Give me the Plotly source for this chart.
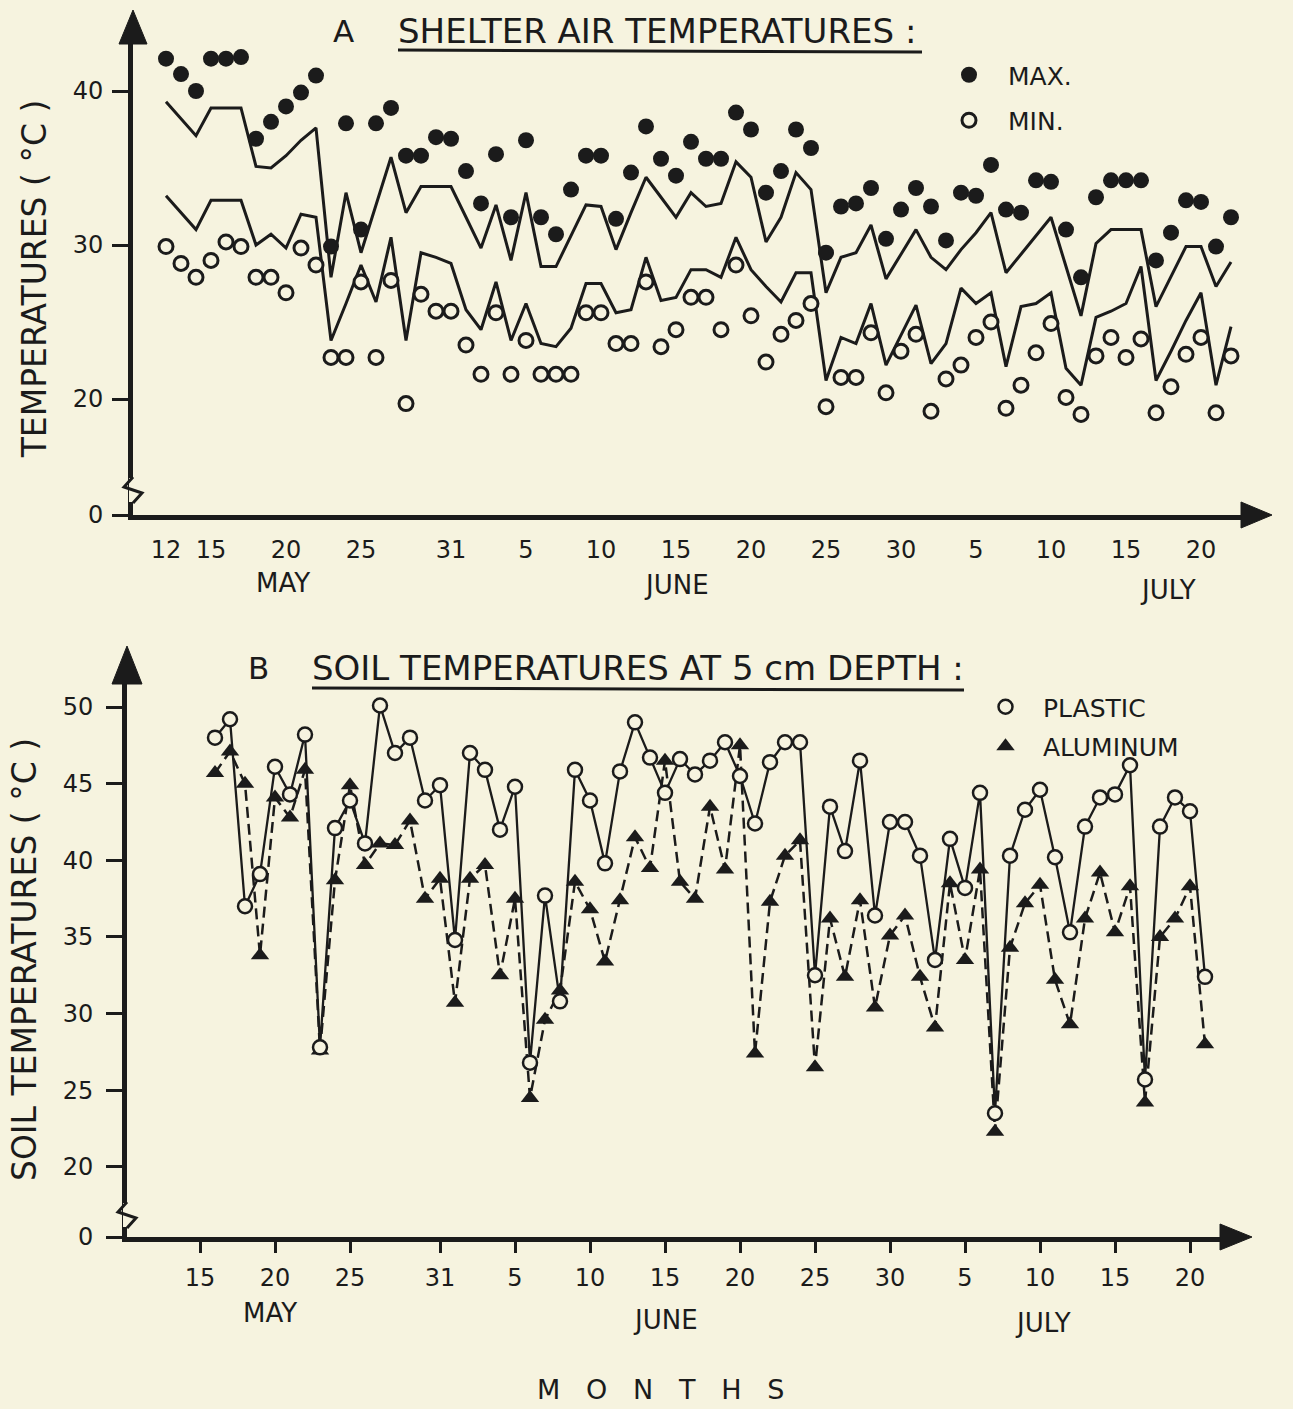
import datetime as dt
import plotly.graph_objects as go

W, H = 1293, 1409
INK = "#1b1b1b"
PAPER = "#f6f3df"
FONT = "DejaVu Sans"

# ---------------- data ----------------
# Panel A: shelter air temperatures, daily from 12 May
air_start = dt.date(1983, 5, 12)
air_max = [42.1, 41.1, 40.0, 42.1, 42.1, 42.2, 36.9, 38.0, 39.0, 39.9,
           41.0, 29.9, 37.9, 31.0, 37.9, 38.9, 35.8, 35.8, 37.0, 36.9,
           34.8, 32.7, 35.9, 31.8, 36.8, 31.8, 30.7, 33.6, 35.8, 35.8,
           31.7, 34.7, 37.7, 35.6, 34.5, 36.7, 35.6, 35.6, 38.6, 37.5,
           33.4, 34.8, 37.5, 36.3, 29.5, 32.5, 32.7, 33.7, 30.4, 32.3,
           33.7, 32.5, 30.3, 33.4, 33.2, 35.2, 32.3, 32.1, 34.2, 34.1,
           31.0, 27.9, 33.1, 34.2, 34.2, 34.2, 29.0, 30.8, 32.9, 32.8,
           29.9, 31.8]
air_min = [29.9, 28.8, 27.9, 29.0, 30.2, 29.9, 27.9, 27.9, 26.9, 29.8,
           28.7, 22.7, 22.7, 27.6, 22.7, 27.7, 19.7, 26.8, 25.7, 25.7,
           23.5, 21.6, 25.6, 21.6, 23.8, 21.6, 21.6, 21.6, 25.6, 25.6,
           23.6, 23.6, 27.6, 23.4, 24.5, 26.6, 26.6, 24.5, 28.7, 25.4,
           22.4, 24.2, 25.1, 26.2, 19.5, 21.4, 21.4, 24.3, 20.4, 23.1,
           24.2, 19.2, 21.3, 22.2, 24.0, 25.0, 19.4, 20.9, 23.0, 24.9,
           20.1, 19.0, 22.8, 24.0, 22.7, 23.9, 19.1, 20.8, 22.9, 24.0,
           19.1, 22.8]
eff_day = [39.3, 38.2, 37.1, 38.9, 38.9, 38.9, 35.1, 35.0, 35.8, 36.8,
           37.6, 27.9, 33.4, 29.5, 32.6, 35.7, 32.1, 33.8, 33.8, 33.8,
           31.8, 29.8, 32.6, 29.0, 33.4, 28.6, 28.6, 30.6, 32.6, 32.5,
           29.7, 32.1, 34.4, 33.1, 31.8, 33.4, 32.5, 32.7, 35.4, 34.4,
           30.2, 31.8, 34.7, 33.6, 26.9, 29.2, 29.5, 31.3, 27.8, 29.4,
           31.0, 29.2, 28.4, 29.7, 30.8, 32.1, 28.2, 29.4, 30.6, 31.8,
           28.6, 25.4, 30.1, 31.0, 31.0, 31.0, 26.0, 28.0, 29.9, 29.9,
           27.3, 28.9]
eff_night = [33.2, 32.1, 31.0, 32.9, 32.9, 32.9, 30.0, 30.7, 29.8, 32.0,
             31.8, 23.8, 26.2, 28.7, 26.3, 30.5, 23.8, 29.5, 29.2, 28.8,
             25.8, 24.5, 27.6, 23.8, 26.2, 23.6, 23.4, 24.6, 27.5, 27.5,
             25.6, 25.8, 29.2, 26.4, 26.6, 28.4, 28.4, 27.9, 30.5, 28.4,
             27.3, 26.3, 28.2, 28.2, 21.2, 24.0, 23.6, 26.2, 22.2, 24.2,
             26.1, 22.3, 23.6, 27.2, 26.2, 26.9, 22.1, 26.0, 26.2, 26.9,
             22.0, 20.9, 25.3, 25.7, 26.2, 28.6, 21.2, 23.1, 25.1, 26.9,
             20.9, 24.7]

# Panel B: soil temperatures at 5 cm depth, daily from 16 May
soil_start = dt.date(1983, 5, 16)
soil_plastic = [48.0, 49.2, 37.0, 39.1, 46.1, 44.3, 48.2, 27.8, 42.1, 43.9,
                41.1, 50.1, 47.0, 48.0, 43.9, 44.9, 34.8, 47.0, 45.9, 42.0,
                44.8, 26.8, 37.7, 30.8, 45.9, 43.9, 39.8, 45.8, 49.0, 46.7,
                44.4, 46.6, 45.6, 46.5, 47.7, 45.5, 42.4, 46.4, 47.7, 47.7,
                32.5, 43.5, 40.6, 46.5, 36.4, 42.5, 42.5, 40.3, 33.5, 41.4,
                38.2, 44.4, 23.5, 40.3, 43.3, 44.6, 40.2, 35.3, 42.2, 44.1,
                44.3, 46.2, 25.7, 42.2, 44.1, 43.2, 32.4]
soil_aluminum = [45.7, 47.1, 45.0, 33.8, 44.1, 42.8, 45.9, 27.6, 38.7, 44.9,
                 39.7, 41.1, 41.0, 42.6, 37.5, 38.8, 30.7, 38.8, 39.7, 32.5,
                 37.5, 24.5, 29.6, 31.5, 38.6, 36.8, 33.4, 37.4, 41.5, 39.5,
                 46.5, 38.6, 37.5, 43.5, 39.4, 47.5, 27.4, 37.3, 40.3, 41.3,
                 26.5, 36.2, 32.4, 37.4, 30.4, 35.1, 36.4, 32.4, 29.1, 38.5,
                 33.5, 39.4, 22.3, 34.3, 37.2, 38.4, 32.2, 29.3, 36.2, 39.2,
                 35.3, 38.3, 24.2, 35.0, 36.2, 38.3, 28.0]

# tick labels
a_tick_dates = [(5, 12), (5, 15), (5, 20), (5, 25), (5, 31), (6, 5), (6, 10), (6, 15),
                (6, 20), (6, 25), (6, 30), (7, 5), (7, 10), (7, 15), (7, 20)]
b_tick_dates = a_tick_dates[1:]
a_ytick_values = [0, 20, 30, 40]
b_ytick_values = [0, 20, 25, 30, 35, 40, 45, 50]
month_names = ["MAY", "JUNE", "JULY"]


# ---------------- helpers ----------------
def day_of(m, d):
    return (dt.date(air_start.year, m, d) - air_start).days


def fx(px):
    return px / W


def fy(py):
    return 1 - py / H


air_days = [i for i in range(len(air_max))]
soil_off = (soil_start - air_start).days
soil_days = [soil_off + i for i in range(len(soil_plastic))]

# pixel frames of the two panels
A_L, A_R, A_T, A_B = 133, 1243, 42, 515
B_L, B_R, B_T, B_B = 127, 1222, 682, 1237
A_X0, B_X0, PX_DAY = 166, 155, 15.0
A_YREF, A_YPX, A_PPU = 30, 245, 15.4
B_YREF, B_YPX, B_PPU = 50, 707, 15.33

a_xr = [(A_L - A_X0) / PX_DAY, (A_R - A_X0) / PX_DAY]
a_yr = [A_YREF - (A_B - A_YPX) / A_PPU, A_YREF + (A_YPX - A_T) / A_PPU]
b_xr = [(B_L - B_X0) / PX_DAY, (B_R - B_X0) / PX_DAY]
b_yr = [B_YREF - (B_B - B_YPX) / B_PPU, B_YREF + (B_YPX - B_T) / B_PPU]

fig = go.Figure()

line_a = dict(color=INK, width=3)
# Panel A lines (effective day / night)
fig.add_trace(go.Scatter(x=air_days, y=eff_day, mode="lines", line=line_a,
                         showlegend=False, xaxis="x", yaxis="y"))
fig.add_trace(go.Scatter(x=air_days, y=eff_night, mode="lines", line=line_a,
                         showlegend=False, xaxis="x", yaxis="y"))
fig.add_trace(go.Scatter(x=air_days, y=air_max, mode="markers", name="MAX.",
                         marker=dict(symbol="circle", size=16, color=INK),
                         legend="legend", legendgroup="max", legendrank=1,
                         xaxis="x", yaxis="y"))
fig.add_trace(go.Scatter(x=air_days, y=air_min, mode="markers", name="MIN.",
                         marker=dict(symbol="circle", size=14, color=PAPER,
                                     line=dict(color=INK, width=3)),
                         legend="legend", legendgroup="min", legendrank=2,
                         xaxis="x", yaxis="y"))

# Panel B
fig.add_trace(go.Scatter(x=soil_days, y=soil_aluminum, mode="lines",
                         line=dict(color=INK, width=2.5, dash="11px,6px"),
                         showlegend=False, xaxis="x2", yaxis="y2"))
fig.add_trace(go.Scatter(x=soil_days, y=soil_plastic, mode="lines",
                         line=dict(color=INK, width=2.3),
                         showlegend=False, xaxis="x2", yaxis="y2"))
fig.add_trace(go.Scatter(x=soil_days, y=soil_aluminum, mode="markers", name="ALUMINUM",
                         marker=dict(symbol="triangle-up", size=16, color=INK),
                         legend="legend2", legendgroup="alu", legendrank=2,
                         xaxis="x2", yaxis="y2"))
fig.add_trace(go.Scatter(x=soil_days, y=soil_plastic, mode="markers", name="PLASTIC",
                         marker=dict(symbol="circle", size=14, color=PAPER,
                                     line=dict(color=INK, width=2.5)),
                         legend="legend2", legendgroup="pla", legendrank=1,
                         xaxis="x2", yaxis="y2"))

axis_common = dict(showgrid=False, zeroline=False, showline=True, linecolor=INK,
                   linewidth=5, tickcolor=INK, tickfont=dict(family=FONT, size=24, color=INK),
                   mirror=False, fixedrange=True, automargin=False)

a_tickvals = [day_of(m, d) for m, d in a_tick_dates]
b_tickvals = [day_of(m, d) for m, d in b_tick_dates]

fig.update_layout(
    width=W, height=H, autosize=False,
    margin=dict(l=0, r=0, t=0, b=0),
    paper_bgcolor=PAPER, plot_bgcolor=PAPER,
    font=dict(family=FONT, color=INK),
    xaxis=dict(axis_common, domain=[fx(A_L), fx(A_R)], range=a_xr, anchor="y",
               tickmode="array", tickvals=a_tickvals,
               ticktext=[str(d) for m, d in a_tick_dates],
               ticks="", ticklabelstandoff=9),
    yaxis=dict(axis_common, domain=[fy(A_B), fy(A_T)], range=a_yr, anchor="x",
               tickmode="array",
               tickvals=[a_yr[0] if v == 0 else v for v in a_ytick_values],
               ticktext=[str(v) for v in a_ytick_values],
               ticks="outside", ticklen=16, tickwidth=3, ticklabelstandoff=4,
               title=dict(text="TEMPERATURES ( °C )", font=dict(size=33, family=FONT),
                          standoff=18)),
    xaxis2=dict(axis_common, domain=[fx(B_L), fx(B_R)], range=b_xr, anchor="y2",
                tickmode="array", tickvals=b_tickvals,
                ticktext=[str(d) for m, d in b_tick_dates],
                ticks="outside", ticklen=11, tickwidth=3, ticklabelstandoff=4),
    yaxis2=dict(axis_common, domain=[fy(B_B), fy(B_T)], range=b_yr, anchor="x2",
                tickmode="array",
                tickvals=[b_yr[0] if v == 0 else v for v in b_ytick_values],
                ticktext=[str(v) for v in b_ytick_values],
                ticks="outside", ticklen=16, tickwidth=3, ticklabelstandoff=8,
                title=dict(text="SOIL TEMPERATURES ( °C )", font=dict(size=33, family=FONT),
                           standoff=18)),
    legend=dict(x=fx(930), y=fy(52), xanchor="left", yanchor="top",
                bgcolor="rgba(0,0,0,0)", font=dict(size=25, family=FONT, color=INK),
                itemwidth=68, tracegroupgap=10, traceorder="grouped"),
    legend2=dict(x=fx(968), y=fy(684), xanchor="left", yanchor="top",
                 bgcolor="rgba(0,0,0,0)", font=dict(size=25, family=FONT, color=INK),
                 itemwidth=65, tracegroupgap=4, traceorder="grouped"),
)

ann = []
# panel titles
ann.append(dict(text="A", x=fx(343), y=fy(31), xref="paper", yref="paper",
                xanchor="center", yanchor="middle",
                showarrow=False, font=dict(size=31, family=FONT, color=INK)))
ann.append(dict(text="SHELTER AIR TEMPERATURES :", x=fx(396), y=fy(31), xref="paper",
                yref="paper", xanchor="left", yanchor="middle", showarrow=False,
                font=dict(size=34, family=FONT, color=INK)))
ann.append(dict(text="B", x=fx(258), y=fy(668), xref="paper", yref="paper",
                xanchor="center", yanchor="middle",
                showarrow=False, font=dict(size=31, family=FONT, color=INK)))
ann.append(dict(text="SOIL TEMPERATURES AT 5 cm DEPTH :", x=fx(310), y=fy(668),
                xref="paper", yref="paper", xanchor="left", yanchor="middle", showarrow=False,
                font=dict(size=34, family=FONT, color=INK)))
# month labels
for name, px, py in zip(month_names, [283, 677, 1168], [583, 585, 590]):
    ann.append(dict(text=name, x=fx(px), y=fy(py), xref="paper", yref="paper",
                    xanchor="center", yanchor="middle",
                    showarrow=False, font=dict(size=26, family=FONT, color=INK)))
for name, px, py in zip(month_names, [270, 665, 1043], [1313, 1320, 1323]):
    ann.append(dict(text=name, x=fx(px), y=fy(py), xref="paper", yref="paper",
                    xanchor="center", yanchor="middle",
                    showarrow=False, font=dict(size=26, family=FONT, color=INK)))
ann.append(dict(text="M\u00a0\u00a0\u00a0O\u00a0\u00a0\u00a0N\u00a0\u00a0\u00a0T\u00a0\u00a0\u00a0H\u00a0\u00a0\u00a0S",
                x=fx(660), y=fy(1389), xref="paper", yref="paper", showarrow=False,
                xanchor="center", yanchor="middle",
                font=dict(size=27, family=FONT, color=INK)))
fig.update_layout(annotations=ann)

shapes = []


def tri(p1, p2, p3):
    return dict(type="path", xref="paper", yref="paper", layer="above",
                path=f"M {fx(p1[0])},{fy(p1[1])} L {fx(p2[0])},{fy(p2[1])} "
                     f"L {fx(p3[0])},{fy(p3[1])} Z",
                fillcolor=INK, line=dict(color=INK, width=1))


# axis arrowheads
shapes.append(tri((A_L, 10), (A_L - 14, A_T + 2), (A_L + 14, A_T + 2)))
shapes.append(tri((1272, A_B), (A_R - 2, A_B - 13), (A_R - 2, A_B + 13)))
shapes.append(tri((B_L, 646), (B_L - 15, B_T + 2), (B_L + 15, B_T + 2)))
shapes.append(tri((1252, B_B), (B_R - 2, B_B - 13), (B_R - 2, B_B + 13)))

# title underlines
for x0, x1, y in [(398, 922, 50), (312, 964, 688)]:
    shapes.append(dict(type="line", xref="paper", yref="paper",
                       x0=fx(x0), x1=fx(x1), y0=fy(y), y1=fy(y + 2),
                       line=dict(color=INK, width=3)))

# axis breaks
for xa, yb in [(A_L, 490), (B_L, 1215)]:
    shapes.append(dict(type="rect", xref="paper", yref="paper", layer="above",
                       x0=fx(xa - 4), x1=fx(xa + 4), y0=fy(yb + 12), y1=fy(yb - 12),
                       fillcolor=PAPER, line=dict(width=0)))
    shapes.append(dict(type="path", xref="paper", yref="paper", layer="above",
                       path=f"M {fx(xa)},{fy(yb - 13)} L {fx(xa - 9)},{fy(yb - 3)} "
                            f"L {fx(xa + 9)},{fy(yb + 3)} L {fx(xa)},{fy(yb + 13)}",
                       line=dict(color=INK, width=3)))
fig.update_layout(shapes=shapes)

# pin the figure to the top-left corner of the page (no body margin)
post = (
    "var gd=document.getElementById('{plot_id}');"
    "gd.style.position='fixed';gd.style.top='0px';gd.style.left='0px';"
    "document.documentElement.style.margin='0';document.documentElement.style.overflow='hidden';"
    "document.body.style.margin='0';document.body.style.overflow='hidden';"
    "document.body.style.background='" + PAPER + "';"
    "document.documentElement.style.background='" + PAPER + "';"
)
fig.write_html("out.html", config={"displayModeBar": False}, post_script=post)
